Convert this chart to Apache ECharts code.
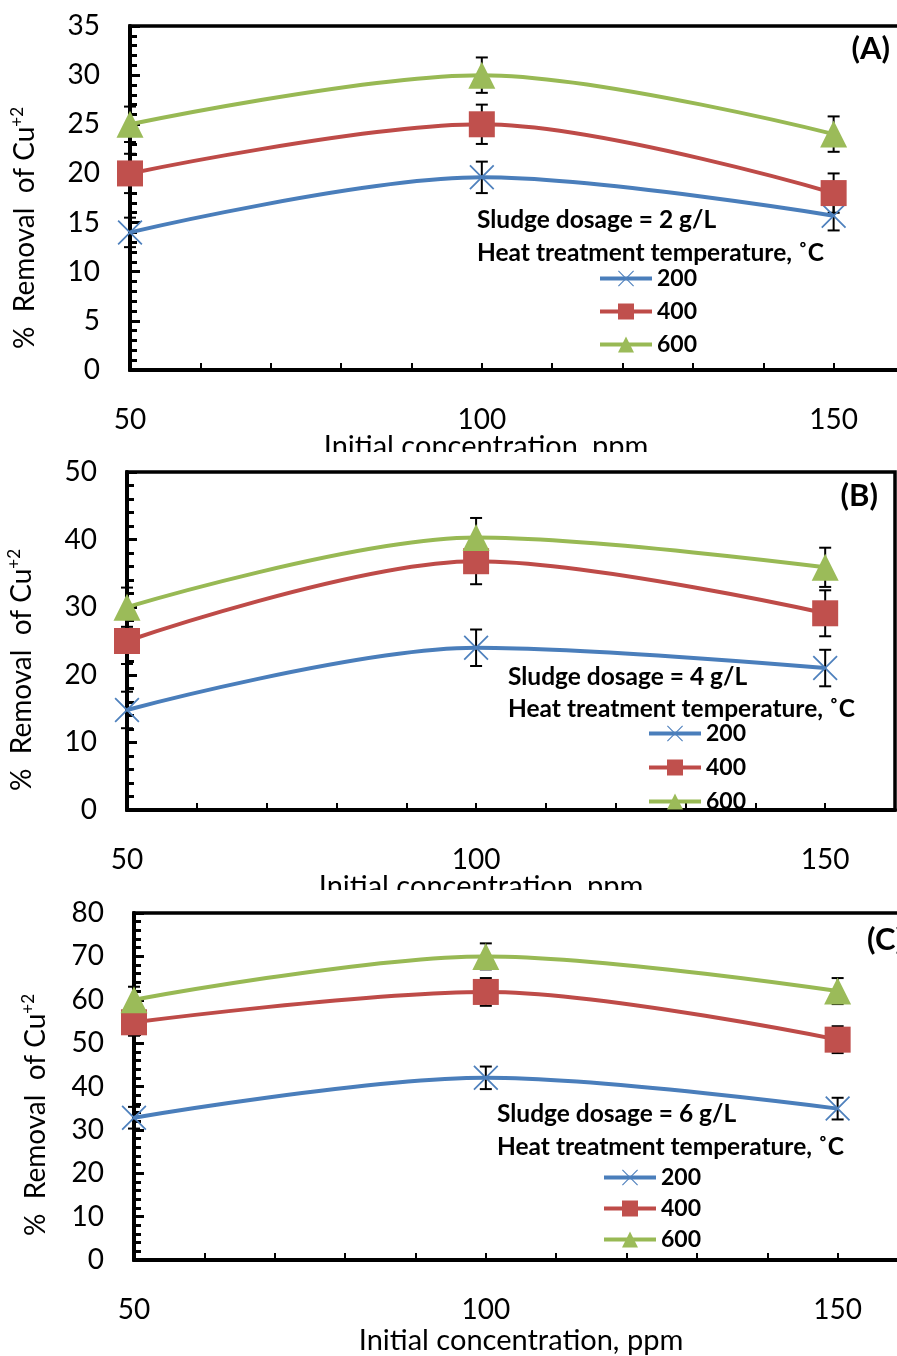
<!DOCTYPE html>
<html>
<head>
<meta charset="utf-8">
<script src="https://cdn.jsdelivr.net/npm/echarts@6/dist/echarts.min.js"></script>
<style>
html, body { margin: 0; padding: 0; background: #fff; }
#main { width: 897px; height: 1356px; }
</style>
</head>
<body>
<div id="main"></div>
<script>
// initial concentration, ppm
var conc = [50, 100, 150];
var temps = ['200', '400', '600'];

// (A) sludge dosage 2 g/L
var a200 = [14, 19.6, 15.7];
var a400 = [20, 25, 18];
var a600 = [25, 30, 24];
var errA200 = [1.5, 1.6, 1.5];
var errA400 = [2, 2, 2];
var errA600 = [1.8, 1.8, 1.8];

// (B) sludge dosage 4 g/L
var b200 = [14.8, 24, 21];
var b400 = [25, 36.8, 29.1];
var b600 = [30, 40.3, 35.9];
var errB200 = [2.7, 2.7, 2.7];
var errB400 = [3.4, 3.4, 3.4];
var errB600 = [2.9, 2.9, 2.9];

// (C) sludge dosage 6 g/L
var c200 = [32.8, 42, 34.9];
var c400 = [54.8, 61.8, 50.8];
var c600 = [60, 70, 62];
var errC200 = [2.5, 2.6, 2.5];
var errC400 = [3.1, 3.2, 3.1];
var errC600 = [3, 3, 3];

var FONT = 'Lato';
var lineColors = ['#4A7EBB', '#BE4B48', '#98B954'];
var markColors = ['#4F81BD', '#C0504D', '#9BBB59'];
var markers = [
    'path://M0,1L1,0L10,9L19,0L20,1L11,10L20,19L19,20L10,11L1,20L0,19L9,10Z',
    'rect',
    'triangle'
];
var markerSize = [25, 26, 27];

var chart = echarts.init(document.getElementById('main'));

var panels = [
    { grid: {left: 130, top: 26, width: 774, height: 344}, yMax: 35, yStep: 5,
      vals: [a200, a400, a600], errs: [errA200, errA400, errA600],
      legend: {left: 598, top: 267, gap: 10} },
    { grid: {left: 127, top: 472, width: 768, height: 338}, yMax: 50, yStep: 10,
      vals: [b200, b400, b600], errs: [errB200, errB400, errB600],
      legend: {left: 647, top: 722, gap: 11} },
    { grid: {left: 134, top: 913, width: 774, height: 347}, yMax: 80, yStep: 10,
      vals: [c200, c400, c600], errs: [errC200, errC400, errC600],
      legend: {left: 602, top: 1166, gap: 8} }
];

function renderErr(params, api) {
    var x = api.value(0);
    var lo = api.coord([x, api.value(1)]);
    var hi = api.coord([x, api.value(2)]);
    var w = 6;
    var st = {stroke: '#000', lineWidth: 2};
    return {
        type: 'group',
        children: [
            {type: 'line', shape: {x1: lo[0], y1: lo[1], x2: hi[0], y2: hi[1]}, style: st},
            {type: 'line', shape: {x1: lo[0] - w, y1: lo[1], x2: lo[0] + w, y2: lo[1]}, style: st},
            {type: 'line', shape: {x1: hi[0] - w, y1: hi[1], x2: hi[0] + w, y2: hi[1]}, style: st}
        ]
    };
}

var grids = [], xAxes = [], yAxes = [], series = [], legends = [];

panels.forEach(function (p, i) {
    grids.push({
        left: p.grid.left, top: p.grid.top, width: p.grid.width, height: p.grid.height,
        outerBoundsMode: 'none', containLabel: false,
        show: true, borderColor: '#000', borderWidth: 3.5, backgroundColor: 'transparent'
    });
    xAxes.push({
        gridIndex: i, type: 'value', min: 50, max: 160, interval: 10,
        axisLine: {lineStyle: {color: '#000', width: 4}},
        axisTick: {inside: true, length: 7, lineStyle: {color: '#000', width: 2}},
        axisLabel: {
            margin: 36, color: '#000', fontFamily: FONT, fontSize: 28,
            formatter: function (v) { return (v % 50 === 0 && v <= 150) ? String(v) : ''; }
        },
        splitLine: {show: false}
    });
    yAxes.push({
        gridIndex: i, type: 'value', min: 0, max: p.yMax, interval: p.yStep,
        axisLine: {lineStyle: {color: '#000', width: 4}},
        axisTick: {inside: true, length: 10, lineStyle: {color: '#000', width: 3}},
        minorTick: {show: true, splitNumber: 5, length: 7, lineStyle: {color: '#000', width: 3}},
        axisLabel: {margin: 30, color: '#000', fontFamily: FONT, fontSize: 28},
        splitLine: {show: false}
    });

    var errData = [];
    p.vals.forEach(function (vals, k) {
        series.push({
            name: temps[k], type: 'line', xAxisIndex: i, yAxisIndex: i,
            data: conc.map(function (c, j) { return [c, vals[j]]; }),
            smooth: 0.33, z: 3,
            symbol: markers[k], symbolSize: markerSize[k],
            lineStyle: {color: lineColors[k], width: 4},
            itemStyle: {color: markColors[k], borderWidth: 0}
        });
        conc.forEach(function (c, j) {
            var e = p.errs[k][j];
            errData.push([c, vals[j] - e, vals[j] + e]);
        });
    });
    series.push({
        type: 'custom', xAxisIndex: i, yAxisIndex: i, z: 2,
        renderItem: renderErr, data: errData,
        encode: {x: 0, y: [1, 2]}
    });

    legends.push({
        data: temps, orient: 'vertical', left: p.legend.left, top: p.legend.top,
        itemWidth: 52, itemHeight: 20, itemGap: p.legend.gap, padding: 0,
        lineStyle: {width: 4},
        textStyle: {fontFamily: FONT, fontWeight: 'bold', fontSize: 23, color: '#000'}
    });
});

function yTitle(x, y) {
    return {
        type: 'text', x: x, y: y, rotation: Math.PI / 2, z: 10,
        style: {
            text: '%  Removal  of Cu{sup|+2}',
            fontFamily: FONT, fontSize: 28, fill: '#000',
            align: 'center', verticalAlign: 'middle',
            rich: {sup: {fontFamily: FONT, fontSize: 17, fill: '#000', verticalAlign: 'top', lineHeight: 32}}
        }
    };
}

function txt(x, y, s, opt) {
    return {
        type: 'text', x: x, y: y, z: 10,
        style: Object.assign({
            text: s, fontFamily: FONT, fontSize: 24.5, fontWeight: 'bold', fill: '#000',
            align: 'left', verticalAlign: 'middle'
        }, opt || {})
    };
}

var xName = 'Initial concentration, ppm';
var nameStyle = {fontSize: 29, fontWeight: 'normal', align: 'center', verticalAlign: 'top'};
var graphics = [
    yTitle(25, 228), yTitle(22, 670), yTitle(36, 1115),
    txt(486, 432, xName, nameStyle),
    txt(481, 872, xName, nameStyle),
    txt(521, 1326, xName, nameStyle),
    // the stacked panels cut the lower titles off
    {type: 'rect', z: 20, shape: {x: 200, y: 452, width: 697, height: 10}, style: {fill: '#fff'}},
    {type: 'rect', z: 20, shape: {x: 200, y: 890, width: 697, height: 14}, style: {fill: '#fff'}},
    txt(890, 49, '(A)', {fontSize: 31, align: 'right'}),
    txt(878, 496, '(B)', {fontSize: 31, align: 'right'}),
    txt(867, 940, '(C)', {fontSize: 31}),
    txt(477, 220, 'Sludge dosage = 2 g/L'),
    txt(477, 253, 'Heat treatment temperature, ˚C'),
    txt(508, 677, 'Sludge dosage = 4 g/L'),
    txt(508, 709, 'Heat treatment temperature, ˚C'),
    txt(497, 1114, 'Sludge dosage = 6 g/L'),
    txt(497, 1147, 'Heat treatment temperature, ˚C')
];

chart.setOption({
    animation: false,
    backgroundColor: '#fff',
    grid: grids,
    xAxis: xAxes,
    yAxis: yAxes,
    legend: legends,
    series: series,
    graphic: graphics
});
</script>
</body>
</html>
